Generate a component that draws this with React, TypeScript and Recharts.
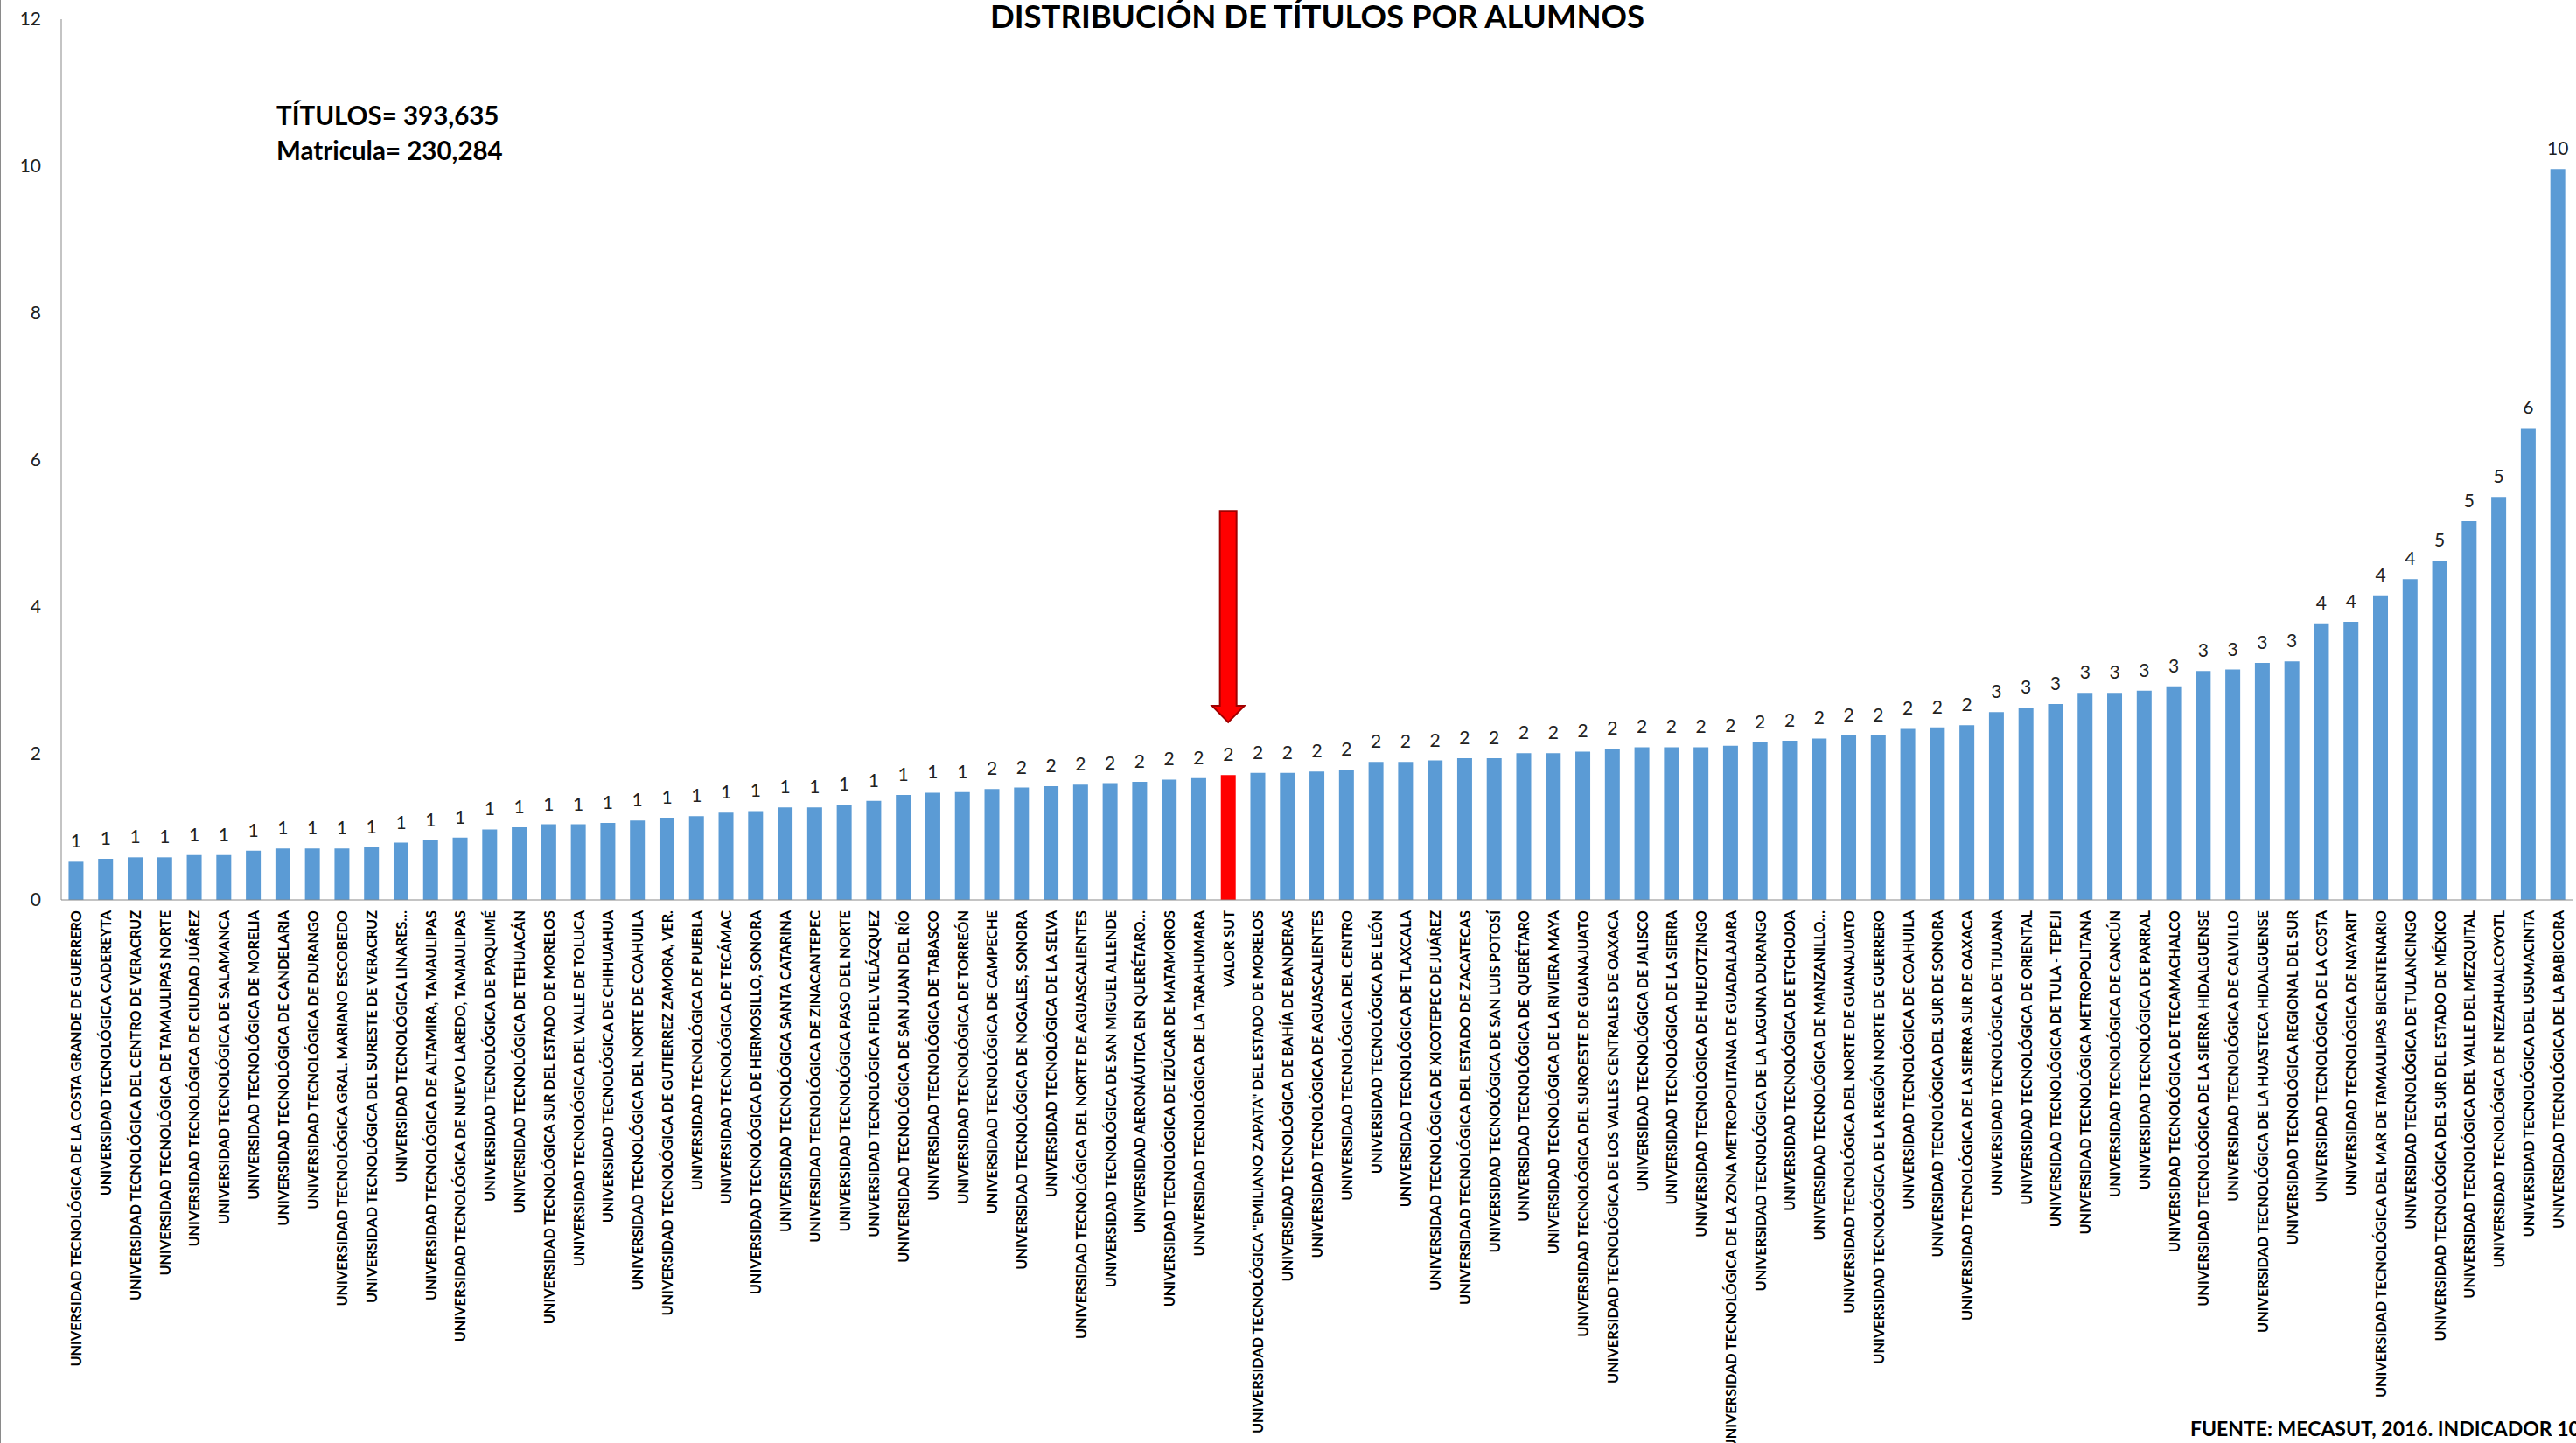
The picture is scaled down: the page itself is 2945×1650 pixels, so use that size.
import React from "react";
import { BarChart, Bar, XAxis, YAxis, Cell, LabelList, ReferenceLine } from "recharts";

const universidades = [
  "UNIVERSIDAD TECNOLÓGICA DE LA COSTA GRANDE DE GUERRERO",
  "UNIVERSIDAD TECNOLÓGICA CADEREYTA",
  "UNIVERSIDAD TECNOLÓGICA DEL CENTRO DE VERACRUZ",
  "UNIVERSIDAD TECNOLÓGICA DE TAMAULIPAS NORTE",
  "UNIVERSIDAD TECNOLÓGICA DE CIUDAD JUÁREZ",
  "UNIVERSIDAD TECNOLÓGICA DE SALAMANCA",
  "UNIVERSIDAD TECNOLÓGICA DE MORELIA",
  "UNIVERSIDAD TECNOLÓGICA DE CANDELARIA",
  "UNIVERSIDAD TECNOLÓGICA DE DURANGO",
  "UNIVERSIDAD TECNOLÓGICA GRAL. MARIANO ESCOBEDO",
  "UNIVERSIDAD TECNOLÓGICA DEL SURESTE DE VERACRUZ",
  "UNIVERSIDAD TECNOLÓGICA LINARES…",
  "UNIVERSIDAD TECNOLÓGICA DE ALTAMIRA, TAMAULIPAS",
  "UNIVERSIDAD TECNOLÓGICA DE NUEVO LAREDO, TAMAULIPAS",
  "UNIVERSIDAD TECNOLÓGICA DE  PAQUIMÉ",
  "UNIVERSIDAD TECNOLÓGICA DE TEHUACÁN",
  "UNIVERSIDAD TECNOLÓGICA SUR DEL ESTADO DE MORELOS",
  "UNIVERSIDAD TECNOLÓGICA DEL VALLE DE TOLUCA",
  "UNIVERSIDAD TECNOLÓGICA DE CHIHUAHUA",
  "UNIVERSIDAD TECNOLÓGICA DEL NORTE DE COAHUILA",
  "UNIVERSIDAD TECNOLÓGICA DE GUTIERREZ ZAMORA, VER.",
  "UNIVERSIDAD TECNOLÓGICA DE PUEBLA",
  "UNIVERSIDAD TECNOLÓGICA DE TECÁMAC",
  "UNIVERSIDAD TECNOLÓGICA DE HERMOSILLO, SONORA",
  "UNIVERSIDAD TECNOLÓGICA SANTA CATARINA",
  "UNIVERSIDAD TECNOLÓGICA DE ZINACANTEPEC",
  "UNIVERSIDAD TECNOLÓGICA PASO DEL NORTE",
  "UNIVERSIDAD TECNOLÓGICA FIDEL VELÁZQUEZ",
  "UNIVERSIDAD TECNOLÓGICA DE SAN JUAN DEL RÍO",
  "UNIVERSIDAD TECNOLÓGICA DE TABASCO",
  "UNIVERSIDAD TECNOLÓGICA DE TORREÓN",
  "UNIVERSIDAD TECNOLÓGICA DE CAMPECHE",
  "UNIVERSIDAD TECNOLÓGICA DE NOGALES, SONORA",
  "UNIVERSIDAD TECNOLÓGICA DE LA SELVA",
  "UNIVERSIDAD TECNOLÓGICA DEL NORTE DE AGUASCALIENTES",
  "UNIVERSIDAD TECNOLÓGICA DE SAN MIGUEL ALLENDE",
  "UNIVERSIDAD AERONÁUTICA EN QUERÉTARO…",
  "UNIVERSIDAD TECNOLÓGICA DE IZÚCAR DE MATAMOROS",
  "UNIVERSIDAD TECNOLÓGICA DE LA TARAHUMARA",
  "VALOR SUT",
  "UNIVERSIDAD TECNOLÓGICA \"EMILIANO ZAPATA\" DEL ESTADO DE MORELOS",
  "UNIVERSIDAD TECNOLÓGICA DE BAHÍA DE BANDERAS",
  "UNIVERSIDAD TECNOLÓGICA DE AGUASCALIENTES",
  "UNIVERSIDAD TECNOLÓGICA DEL CENTRO",
  "UNIVERSIDAD TECNOLÓGICA DE LEÓN",
  "UNIVERSIDAD TECNOLÓGICA DE TLAXCALA",
  "UNIVERSIDAD TECNOLÓGICA DE XICOTEPEC DE JUÁREZ",
  "UNIVERSIDAD TECNOLÓGICA DEL ESTADO DE ZACATECAS",
  "UNIVERSIDAD TECNOLÓGICA DE SAN LUIS POTOSÍ",
  "UNIVERSIDAD TECNOLÓGICA DE QUERÉTARO",
  "UNIVERSIDAD TECNOLÓGICA DE LA RIVIERA MAYA",
  "UNIVERSIDAD TECNOLÓGICA DEL SUROESTE DE GUANAJUATO",
  "UNIVERSIDAD TECNOLÓGICA DE LOS VALLES CENTRALES DE OAXACA",
  "UNIVERSIDAD TECNOLÓGICA DE JALISCO",
  "UNIVERSIDAD TECNOLÓGICA DE LA SIERRA",
  "UNIVERSIDAD TECNOLÓGICA DE HUEJOTZINGO",
  "UNIVERSIDAD TECNOLÓGICA DE LA ZONA METROPOLITANA DE GUADALAJARA",
  "UNIVERSIDAD TECNOLÓGICA DE LA LAGUNA DURANGO",
  "UNIVERSIDAD TECNOLÓGICA DE ETCHOJOA",
  "UNIVERSIDAD TECNOLÓGICA DE MANZANILLO…",
  "UNIVERSIDAD TECNOLÓGICA DEL NORTE DE GUANAJUATO",
  "UNIVERSIDAD TECNOLÓGICA DE LA REGIÓN NORTE DE GUERRERO",
  "UNIVERSIDAD TECNOLÓGICA DE COAHUILA",
  "UNIVERSIDAD TECNOLÓGICA DEL SUR DE SONORA",
  "UNIVERSIDAD TECNOLÓGICA DE LA SIERRA SUR DE OAXACA",
  "UNIVERSIDAD TECNOLÓGICA DE TIJUANA",
  "UNIVERSIDAD TECNOLÓGICA DE ORIENTAL",
  "UNIVERSIDAD TECNOLÓGICA DE TULA - TEPEJI",
  "UNIVERSIDAD TECNOLÓGICA METROPOLITANA",
  "UNIVERSIDAD TECNOLÓGICA DE CANCÚN",
  "UNIVERSIDAD TECNOLÓGICA DE PARRAL",
  "UNIVERSIDAD TECNOLÓGICA DE TECAMACHALCO",
  "UNIVERSIDAD TECNOLÓGICA DE LA SIERRA HIDALGUENSE",
  "UNIVERSIDAD TECNOLÓGICA DE CALVILLO",
  "UNIVERSIDAD TECNOLÓGICA DE LA HUASTECA HIDALGUENSE",
  "UNIVERSIDAD TECNOLÓGICA REGIONAL DEL SUR",
  "UNIVERSIDAD TECNOLÓGICA DE LA COSTA",
  "UNIVERSIDAD TECNOLÓGICA DE NAYARIT",
  "UNIVERSIDAD TECNOLÓGICA DEL MAR DE TAMAULIPAS BICENTENARIO",
  "UNIVERSIDAD TECNOLÓGICA DE TULANCINGO",
  "UNIVERSIDAD TECNOLÓGICA DEL SUR DEL ESTADO DE MÉXICO",
  "UNIVERSIDAD TECNOLÓGICA DEL VALLE DEL MEZQUITAL",
  "UNIVERSIDAD TECNOLÓGICA DE NEZAHUALCOYOTL",
  "UNIVERSIDAD TECNOLÓGICA DEL USUMACINTA",
  "UNIVERSIDAD TECNOLÓGICA DE LA BABICORA",
];

const titulosPorAlumno = [
  0.52, 0.56, 0.58, 0.58, 0.61, 0.61, 0.67, 0.7, 0.7, 0.7,
  0.72, 0.78, 0.81, 0.85, 0.96, 0.99, 1.03, 1.03, 1.05, 1.08,
  1.12, 1.14, 1.19, 1.21, 1.26, 1.26, 1.3, 1.35, 1.43, 1.46,
  1.47, 1.51, 1.53, 1.55, 1.57, 1.59, 1.61, 1.64, 1.66, 1.7,
  1.73, 1.73, 1.75, 1.77, 1.88, 1.88, 1.9, 1.93, 1.93, 2.0,
  2.0, 2.02, 2.06, 2.08, 2.08, 2.08, 2.1, 2.15, 2.17, 2.2,
  2.24, 2.24, 2.33, 2.35, 2.38, 2.56, 2.62, 2.67, 2.82, 2.82,
  2.85, 2.91, 3.12, 3.14, 3.23, 3.25, 3.77, 3.79, 4.15, 4.37,
  4.62, 5.16, 5.49, 6.43, 9.96,
];

const yTicks = [0, 2, 4, 6, 8, 10, 12];
const valorSut = "VALOR SUT";
const arrowTop = 5.3;
const arrowTip = 2.42;

const data = universidades.map((name, i) => ({ name, value: titulosPorAlumno[i] }));

const FONT = "Lato, 'Open Sans', sans-serif";

function CategoryTick({ x, y, payload }: any) {
  const ty = y + 4;
  return (
    <text
      x={x}
      y={ty}
      transform={`rotate(-90 ${x} ${ty})`}
      textAnchor="end"
      dominantBaseline="central"
      fontSize={16.3}
      fontWeight={700}
      fontFamily={FONT}
      fill="#000"
    >
      {payload.value}
    </text>
  );
}

function Arrow(props: any) {
  const { x1, y1, y2 } = props;
  const x = x1;
  const shaft = 9.5;
  const head = 18.5;
  const headH = 19;
  const d = `M${x - shaft},${y1} L${x + shaft},${y1} L${x + shaft},${y2 - headH} L${x + head},${y2 - headH} L${x},${y2} L${x - head},${y2 - headH} L${x - shaft},${y2 - headH} Z`;
  return <path d={d} fill="#FF0000" stroke="#A00000" strokeWidth={2} />;
}

export default function App() {
  return (
    <div
      style={{
        position: "fixed",
        left: 0,
        top: 0,
        width: 2945,
        height: 1650,
        background: "#fff",
        fontFamily: FONT,
        borderLeft: "1px solid #8a8a8a",
        boxSizing: "border-box",
        overflow: "hidden",
      }}
    >
      <BarChart
        width={2944}
        height={1650}
        data={data}
        margin={{ top: 22, right: 4, left: 0, bottom: 0 }}
        barCategoryGap="25%"
      >
        <XAxis
          dataKey="name"
          interval={0}
          height={621}
          tickLine={false}
          axisLine={{ stroke: "#898989" }}
          tick={<CategoryTick />}
        />
        <YAxis
          domain={[0, 12]}
          ticks={yTicks}
          width={69}
          tickLine={false}
          tickMargin={17}
          axisLine={{ stroke: "#898989" }}
          tick={{ fontSize: 21, fill: "#222", fontFamily: FONT }}
        />
        <Bar dataKey="value" isAnimationActive={false}>
          {data.map((d) => (
            <Cell key={d.name} fill={d.name === valorSut ? "#FF0000" : "#5B9BD5"} />
          ))}
          <LabelList
            dataKey="value"
            position="top"
            offset={16}
            formatter={(v: any) => Math.round(Number(v))}
            style={{ fontSize: 21, fill: "#222", fontFamily: FONT }}
          />
        </Bar>
        <ReferenceLine
          segment={[
            { x: valorSut, y: arrowTop },
            { x: valorSut, y: arrowTip },
          ]}
          shape={Arrow}
        />
      </BarChart>
      <div
        style={{
          position: "absolute",
          top: 0,
          left: 1505,
          transform: "translateX(-50%)",
          fontSize: 36.5,
          lineHeight: 1,
          fontWeight: 700,
          whiteSpace: "nowrap",
          color: "#000",
        }}
      >
        DISTRIBUCIÓN DE TÍTULOS POR ALUMNOS
      </div>
      <div
        style={{
          position: "absolute",
          top: 112,
          left: 315,
          fontSize: 29.5,
          fontWeight: 700,
          lineHeight: "40px",
          whiteSpace: "nowrap",
          color: "#000",
        }}
      >
        <div>TÍTULOS= 393,635</div>
        <div>Matricula= 230,284</div>
      </div>
      <div
        style={{
          position: "absolute",
          top: 1619,
          left: 2503,
          fontSize: 23,
          fontWeight: 700,
          whiteSpace: "nowrap",
          color: "#000",
        }}
      >
        FUENTE: MECASUT, 2016. INDICADOR 10
      </div>
    </div>
  );
}
